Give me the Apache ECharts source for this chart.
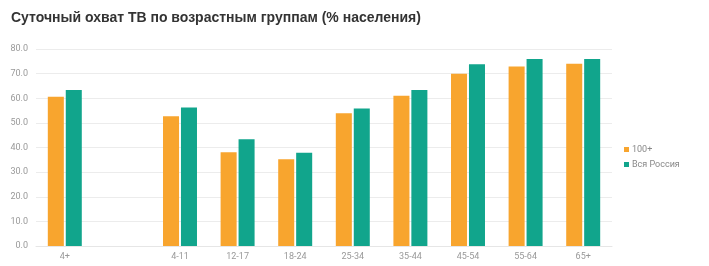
<!DOCTYPE html>
<html><head><meta charset="utf-8">
<script src="https://cdn.jsdelivr.net/npm/echarts@6/dist/echarts.min.js"></script>
<style>html,body{margin:0;padding:0;background:#fff}#c{width:709px;height:266px}</style>
</head><body><div id="c"></div>
<script>
const categories = ['4+', '', '4-11', '12-17', '18-24', '25-34', '35-44', '45-54', '55-64', '65+'];
const series100 = [60.6, null, 52.7, 38.1, 35.2, 53.9, 61.0, 69.9, 72.9, 74.0];
const seriesRussia = [63.4, null, 56.2, 43.4, 37.9, 55.8, 63.3, 73.8, 75.9, 75.9];
const seriesNames = ['100+', 'Вся Россия'];
const titleText = 'Суточный охват ТВ по возрастным группам (% населения)';

const chart = echarts.init(document.getElementById('c'), null, {renderer: 'canvas'});
chart.setOption({
  animation: false,
  title: {
    text: titleText, left: 6, top: 6,
    textStyle: {fontFamily: 'Liberation Sans', fontSize: 14, fontWeight: 'bold', color: '#333'}
  },
  legend: {
    orient: 'vertical', left: 619, top: 140, itemWidth: 5, itemHeight: 5, itemGap: 6,
    icon: 'rect',
    textStyle: {fontFamily: 'Roboto', fontSize: 9, color: '#888', padding: [0, 0, 0, -2]},
    data: seriesNames
  },
  grid: {left: 36, right: 97, top: 49, bottom: 20, containLabel: false},
  xAxis: {
    type: 'category', data: categories,
    axisLine: {show: true, lineStyle: {color: '#e6e6e6'}},
    axisTick: {show: false},
    axisLabel: {fontFamily: 'Roboto', fontSize: 9, color: '#999', margin: 6}
  },
  yAxis: {
    type: 'value', min: 0, max: 80, interval: 10,
    axisLine: {show: false}, axisTick: {show: false},
    splitLine: {lineStyle: {color: '#ececec'}},
    axisLabel: {fontFamily: 'Roboto', fontSize: 9, color: '#999', margin: 8,
      formatter: v => v.toFixed(1)}
  },
  series: [
    {name: seriesNames[0], type: 'bar', data: series100, barGap: '12%', barCategoryGap: '41%',
     itemStyle: {color: '#F8A52E'}},
    {name: seriesNames[1], type: 'bar', data: seriesRussia,
     itemStyle: {color: '#11A58C'}}
  ]
});
</script></body></html>
